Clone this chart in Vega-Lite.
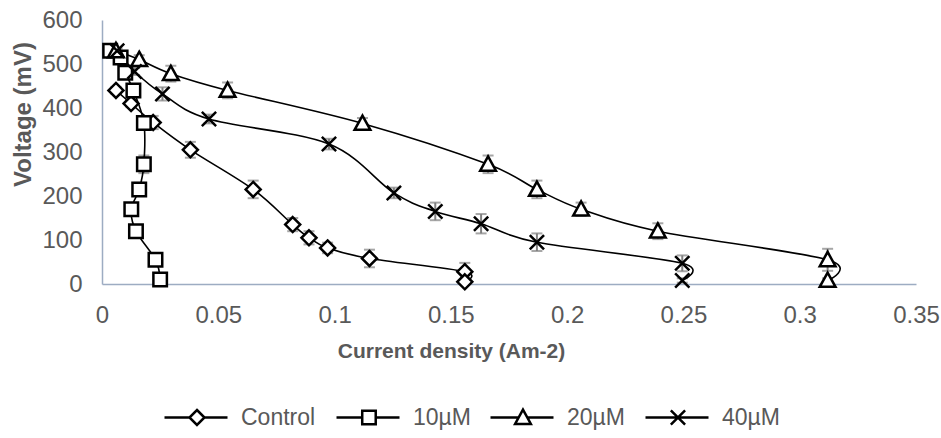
{
  "$schema": "https://vega.github.io/schema/vega-lite/v6.json",
  "autosize": {"type": "none"},
  "width": 814,
  "height": 264,
  "padding": {"left": 102, "top": 20, "right": 25, "bottom": 154},
  "background": "white",
  "config": {
    "view": {"stroke": null},
    "font": "Liberation Sans",
    "axis": {"labelFont": "Liberation Sans", "titleFont": "Liberation Sans", "labelColor": "#595959", "titleColor": "#595959"},
    "legend": {
      "labelFont": "Liberation Sans", "labelColor": "#595959", "labelFontSize": 23,
      "orient": "none", "direction": "horizontal", "padding": 0,
      "symbolSize": 225, "symbolStrokeWidth": 2.5, "symbolFillColor": "white", "symbolStrokeColor": "black",
      "labelOffset": 56, "legendY": 386
    }
  },
  "data": {
    "values": [
      {"series": "Control", "i": 1, "x": 0.006, "v": 440, "err": 8},
      {"series": "Control", "i": 2, "x": 0.0125, "v": 410, "err": 8},
      {"series": "Control", "i": 3, "x": 0.022, "v": 367, "err": 15},
      {"series": "Control", "i": 4, "x": 0.038, "v": 305, "err": 18},
      {"series": "Control", "i": 5, "x": 0.065, "v": 215, "err": 20},
      {"series": "Control", "i": 6, "x": 0.082, "v": 135, "err": 15},
      {"series": "Control", "i": 7, "x": 0.089, "v": 105, "err": 15},
      {"series": "Control", "i": 8, "x": 0.097, "v": 82, "err": 12},
      {"series": "Control", "i": 9, "x": 0.115, "v": 58, "err": 20},
      {"series": "Control", "i": 10, "x": 0.156, "v": 28, "err": 20},
      {"series": "Control", "i": 11, "x": 0.156, "v": 5, "err": 5},
      {"series": "10µM", "i": 1, "x": 0.0035, "v": 530, "err": 5},
      {"series": "10µM", "i": 2, "x": 0.008, "v": 515, "err": 8},
      {"series": "10µM", "i": 3, "x": 0.010, "v": 480, "err": 8},
      {"series": "10µM", "i": 4, "x": 0.0135, "v": 440, "err": 10},
      {"series": "10µM", "i": 5, "x": 0.018, "v": 366, "err": 15},
      {"series": "10µM", "i": 6, "x": 0.018, "v": 272, "err": 20},
      {"series": "10µM", "i": 7, "x": 0.016, "v": 215, "err": 15},
      {"series": "10µM", "i": 8, "x": 0.0126, "v": 170, "err": 10},
      {"series": "10µM", "i": 9, "x": 0.0146, "v": 120, "err": 10},
      {"series": "10µM", "i": 10, "x": 0.023, "v": 55, "err": 10},
      {"series": "10µM", "i": 11, "x": 0.025, "v": 10, "err": 5},
      {"series": "20µM", "i": 1, "x": 0.006, "v": 530, "err": 5},
      {"series": "20µM", "i": 2, "x": 0.016, "v": 510, "err": 10},
      {"series": "20µM", "i": 3, "x": 0.0296, "v": 478, "err": 18},
      {"series": "20µM", "i": 4, "x": 0.054, "v": 440, "err": 18},
      {"series": "20µM", "i": 5, "x": 0.112, "v": 365, "err": 12},
      {"series": "20µM", "i": 6, "x": 0.166, "v": 272, "err": 20},
      {"series": "20µM", "i": 7, "x": 0.187, "v": 215, "err": 20},
      {"series": "20µM", "i": 8, "x": 0.206, "v": 170, "err": 15},
      {"series": "20µM", "i": 9, "x": 0.239, "v": 120, "err": 18},
      {"series": "20µM", "i": 10, "x": 0.312, "v": 55, "err": 25},
      {"series": "20µM", "i": 11, "x": 0.312, "v": 8, "err": 5},
      {"series": "40µM", "i": 1, "x": 0.0065, "v": 530, "err": 5},
      {"series": "40µM", "i": 2, "x": 0.014, "v": 483, "err": 8},
      {"series": "40µM", "i": 3, "x": 0.026, "v": 432, "err": 15},
      {"series": "40µM", "i": 4, "x": 0.046, "v": 375, "err": 10},
      {"series": "40µM", "i": 5, "x": 0.0976, "v": 318, "err": 12},
      {"series": "40µM", "i": 6, "x": 0.1255, "v": 207, "err": 12},
      {"series": "40µM", "i": 7, "x": 0.1433, "v": 165, "err": 20},
      {"series": "40µM", "i": 8, "x": 0.163, "v": 137, "err": 22},
      {"series": "40µM", "i": 9, "x": 0.187, "v": 95, "err": 20},
      {"series": "40µM", "i": 10, "x": 0.2495, "v": 47, "err": 18},
      {"series": "40µM", "i": 11, "x": 0.2495, "v": 8, "err": 5}
    ]
  },
  "encoding": {
    "x": {
      "field": "x", "type": "quantitative",
      "scale": {"domain": [0, 0.35], "nice": false, "zero": false},
      "axis": {
        "title": "Current density (Am-2)",
        "values": [0, 0.05, 0.1, 0.15, 0.2, 0.25, 0.3, 0.35],
        "format": "~g",
        "grid": false, "ticks": false,
        "labelFlush": false, "labelOverlap": false, "labelBound": false,
        "domainColor": "#9DACC2", "domainWidth": 1.5,
        "labelFontSize": 24, "labelPadding": 19,
        "titleFontSize": 21, "titleFontWeight": "bold",
        "titleX": 349, "titleY": 67, "titleBaseline": "middle", "titleAlign": "center"
      }
    },
    "y": {
      "field": "v", "type": "quantitative",
      "scale": {"domain": [0, 600], "nice": false},
      "axis": {
        "title": "Voltage (mV)",
        "values": [0, 100, 200, 300, 400, 500, 600],
        "grid": false, "ticks": false,
        "labelFlush": false, "labelOverlap": false, "labelBound": false,
        "domainColor": "#9DACC2", "domainWidth": 1.5,
        "labelFontSize": 24, "labelPadding": 20,
        "titleFontSize": 24, "titleFontWeight": "bold",
        "titleX": -79, "titleY": 94, "titleBaseline": "middle", "titleAlign": "center", "titleAngle": -90
      }
    }
  },
  "layer": [
    {
      "mark": {
        "type": "errorbar",
        "rule": {"color": "#808080", "strokeWidth": 2},
        "ticks": {"color": "#808080", "size": 11, "thickness": 2}
      },
      "encoding": {
        "yError": {"field": "err"},
        "detail": {"field": "series"}
      }
    },
    {
      "mark": {"type": "line", "interpolate": "cardinal", "tension": 0, "color": "black", "strokeWidth": 1.6},
      "encoding": {
        "detail": {"field": "series"},
        "order": {"field": "i", "type": "quantitative"}
      }
    },
    {
      "transform": [{"filter": "datum.series === 'Control'"}],
      "mark": {"type": "point", "shape": "M0,-1L1,0L0,1L-1,0Z", "filled": true, "fill": "white", "strokeWidth": 2.5, "size": 225, "opacity": 1},
      "encoding": {
        "stroke": {"field": "series", "type": "nominal", "scale": {"range": ["black"]},
          "legend": {"title": null, "legendX": 60, "symbolType": "M-1.2,0H2.13M4.13,0H7.2M3.13,-1L4.13,0L3.13,1L2.13,0Z"}}
      }
    },
    {
      "transform": [{"filter": "datum.series === '10µM'"}],
      "mark": {"type": "point", "shape": "M-0.9,-0.9H0.9V0.9H-0.9Z", "filled": true, "fill": "white", "strokeWidth": 2.5, "size": 225, "opacity": 1},
      "encoding": {
        "stroke": {"field": "series", "type": "nominal", "scale": {"range": ["black"]},
          "legend": {"title": null, "legendX": 232, "symbolType": "M-1.2,0H2.23M4.03,0H7.2M2.23,-0.9H4.03V0.9H2.23Z"}}
      }
    },
    {
      "transform": [{"filter": "datum.series === '20µM'"}],
      "mark": {"type": "point", "shape": "M0,-1.05L1.05,0.85H-1.05Z", "filled": true, "fill": "white", "strokeWidth": 2.5, "size": 225, "opacity": 1},
      "encoding": {
        "stroke": {"field": "series", "type": "nominal", "scale": {"range": ["black"]},
          "legend": {"title": null, "legendX": 386, "symbolType": "M-1.2,0H2.55M3.71,0H7.2M3.13,-1.05L4.18,0.85H2.08Z"}}
      }
    },
    {
      "transform": [{"filter": "datum.series === '40µM'"}],
      "mark": {"type": "point", "shape": "M-0.95,-0.95L0.95,0.95M-0.95,0.95L0.95,-0.95", "filled": true, "fill": "white", "strokeWidth": 2.5, "size": 225, "opacity": 1},
      "encoding": {
        "stroke": {"field": "series", "type": "nominal", "scale": {"range": ["black"]},
          "legend": {"title": null, "legendX": 541, "symbolType": "M-1.2,0H7.2M2.18,-0.95L4.08,0.95M2.18,0.95L4.08,-0.95"}}
      }
    }
  ],
  "resolve": {"scale": {"stroke": "independent"}, "legend": {"stroke": "independent"}}
}
